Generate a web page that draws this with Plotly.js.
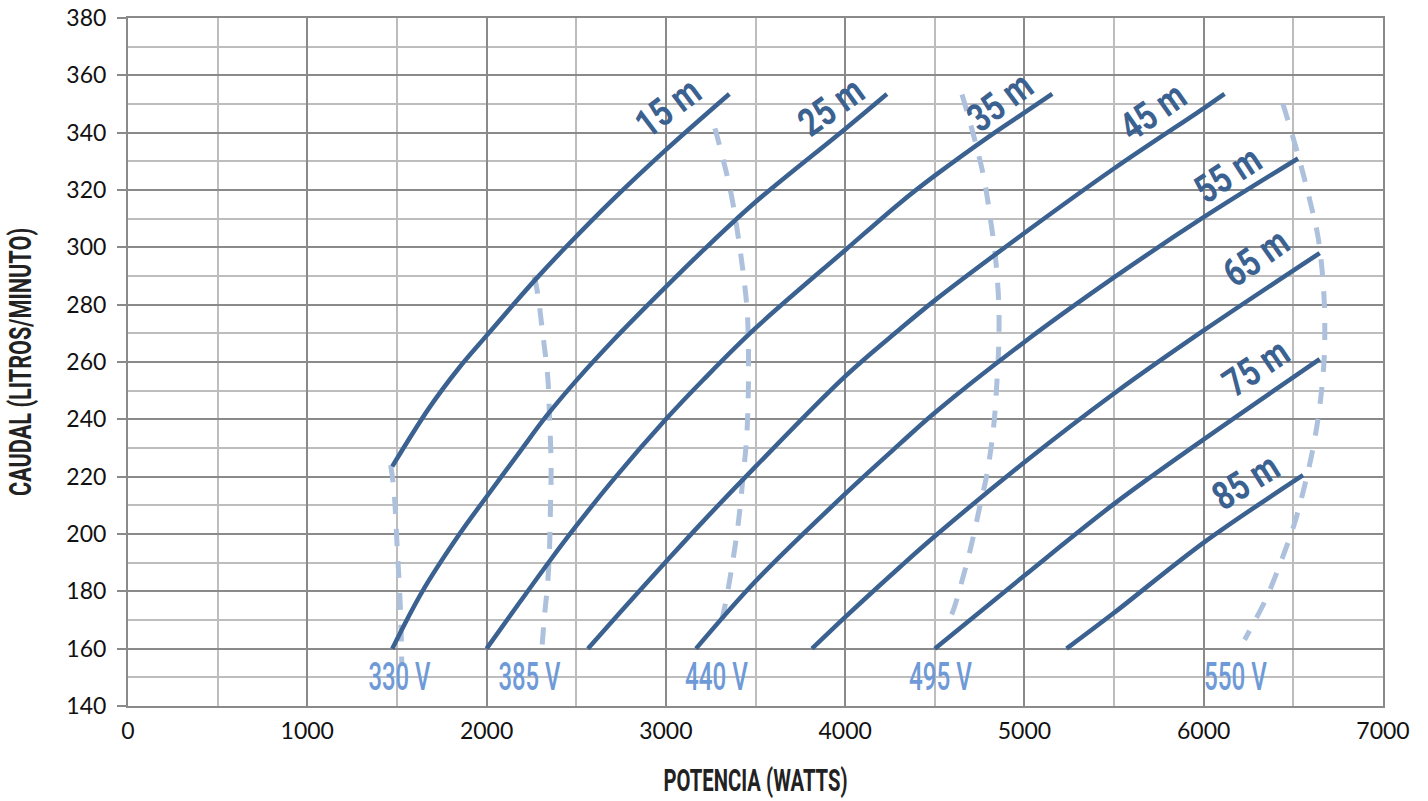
<!DOCTYPE html>
<html>
<head>
<meta charset="utf-8">
<script src="https://cdn.plot.ly/plotly-3.0.1.min.js"></script>
<style>html,body{margin:0;padding:0;background:#fff;}#chart{width:1428px;height:801px;}</style>
</head>
<body>
<div id="chart"></div>
<script>
// Head curves (potencia W vs caudal L/min)
const curveNames = ["15 m","25 m","35 m","45 m","55 m","65 m","75 m","85 m"];
const x15 = [1474,1680,1847,2000,2146,2276,2444,2700,3000,3354];
const y15 = [223.6,244,258,269.2,279.8,289,300.2,316.4,334,353.5];
const x25 = [1474,1642,1847,2000,2183,2332,2500,2705,3000,3209,3500,4000,4233];
const y25 = [160,180,199.8,213,228.5,241,253.5,267.5,286.2,299,315.8,341.3,353.5];
const x35 = [2000,2183,2351,2500,2705,3000,3209,3500,4000,4306,4500,4810,5000,5155];
const y35 = [160,176,190.5,202.8,218.8,240,253.8,271.8,299,315.5,325,339,347,353.5];
const x45 = [2565,2743,3000,3209,3500,4000,4306,4500,5000,5500,6000,6116];
const y45 = [160,172.5,190.3,204.5,223.5,255,271.5,281.5,305,327.5,348.5,353.5];
const x55 = [3168,3500,4000,4306,4500,5000,5500,6000,6526];
const y55 = [160,183.5,214,231.5,242.3,267,289.5,310.5,331];
const x65 = [3815,4000,4306,4500,5000,5500,6000,6647];
const y65 = [160,171,188.5,199.2,225,249,271,298];
const x75 = [4500,5000,5500,6000,6647];
const y75 = [160,185.5,210.5,233,261];
const x85 = [5235,5500,6000,6554];
const y85 = [160,172.5,197,220.5];

// Voltage lines
const voltNames = ["330 V","385 V","440 V","495 V","550 V"];
const x330 = [1465,1483,1502,1515,1521,1527];
const y330 = [224,215.5,194.6,180,171.4,155];
const x385 = [2267,2285,2313,2341,2351,2360,2356,2351,2341,2323,2304];
const y385 = [289.7,283.9,270,254.9,241,223.6,208.5,194.6,183,171.4,156.3];
const x440 = [3274,3358,3404,3451,3460,3460,3451,3432,3404,3367,3330,3293];
const y440 = [341.5,320.5,303.5,279.9,266.8,249.7,234,220.9,203.8,188.1,175,165.1];
const x495 = [4652,4717,4773,4810,4838,4857,4857,4847,4829,4791,4754,4698,4642,4596,4559];
const y495 = [353.3,338.9,324.5,310,296.9,279.9,266.8,253.6,237.9,220.9,210.4,194.6,181.5,172.3,168.4];
const x550 = [6442,6526,6591,6638,6666,6675,6671,6647,6610,6563,6507,6433,6349,6274,6228];
const y550 = [350,332.3,316.6,303.5,287.7,274.6,260.2,244.5,230,216.9,203.8,190.7,177.6,168.4,163.1];

// Label anchor values
const curveLabelX = [3011,3922,4866,5715,6134,6291,6291,6235];
const curveLabelY = [348.6,349,350.7,347.2,325.2,296.3,258,218];
const curveLabelAngle = [-37,-36,-37,-35,-33,-35,-34,-32];
const voltLabelX = [1514,2240,3285,4531,6179];
const voltLabelY = [150,150,150,150,150];

const solidColor = "#3a6190";
const dashColor = "#adc0dc";
const voltTextColor = "#6f9ad8";
const labelFont = "Roboto, 'Open Sans', sans-serif";

const curvesX = [x15,x25,x35,x45,x55,x65,x75,x85];
const curvesY = [y15,y25,y35,y45,y55,y65,y75,y85];
const voltsX = [x330,x385,x440,x495,x550];
const voltsY = [y330,y385,y440,y495,y550];

const traces = [];
voltsX.forEach((xs,i)=>{
  traces.push({x:xs,y:voltsY[i],type:"scatter",mode:"lines",name:voltNames[i],
    line:{color:dashColor,width:5,dash:"17px,15px",shape:"spline",smoothing:1},hoverinfo:"skip"});
});
curvesX.forEach((xs,i)=>{
  traces.push({x:xs,y:curvesY[i],type:"scatter",mode:"lines",name:curveNames[i],
    line:{color:solidColor,width:4.5,shape:"spline",smoothing:1},hoverinfo:"skip"});
});

const annotations = [];
curveNames.forEach((t,i)=>{
  annotations.push({x:curveLabelX[i],y:curveLabelY[i],xref:"x",yref:"y",text:t,showarrow:false,
    textangle:curveLabelAngle[i],font:{family:labelFont,size:39,color:solidColor,weight:"bold"}});
});
voltNames.forEach((t,i)=>{
  annotations.push({x:voltLabelX[i],y:voltLabelY[i],xref:"x",yref:"y",text:t,showarrow:false,
    font:{family:labelFont,size:38,color:voltTextColor,weight:500}});
});

const layout = {
  width:1428,height:801,
  margin:{l:128,r:45,t:18,b:95},
  paper_bgcolor:"#fff",plot_bgcolor:"#fff",
  showlegend:false,
  font:{family:"Lato, 'Open Sans', sans-serif",size:23,color:"#111"},
  xaxis:{range:[0,7000],dtick:1000,tick0:0,showgrid:true,gridcolor:"#8a8a8a",gridwidth:2,
    minor:{dtick:500,showgrid:true,gridcolor:"#bdbdbd",gridwidth:2,ticks:""},
    showline:true,linecolor:"#8a8a8a",linewidth:2,mirror:true,ticks:"",zeroline:false,
    ticklabelstandoff:3,tickfont:{size:23,color:"#111"},
    title:{text:"POTENCIA (WATTS)",font:{family:labelFont,size:31,color:"#222",weight:"bold"},standoff:27}},
  yaxis:{range:[140,380],dtick:20,tick0:140,showgrid:true,gridcolor:"#8a8a8a",gridwidth:2,
    minor:{dtick:10,showgrid:true,gridcolor:"#bdbdbd",gridwidth:2,ticks:""},
    showline:true,linecolor:"#8a8a8a",linewidth:2,mirror:true,ticks:"outside",ticklen:9,tickwidth:2,tickcolor:"#8a8a8a",
    zeroline:false,ticklabelstandoff:6,tickfont:{size:23,color:"#111"},
    title:{text:"CAUDAL (LITROS/MINUTO)",font:{family:labelFont,size:31,color:"#222",weight:"bold"},standoff:26}},
  annotations:annotations
};

// Target widths (px) to imitate the condensed typeface of the original
const condensedWidths = {"15 m":70,"25 m":70,"35 m":70,"45 m":70,"55 m":70,"65 m":70,"75 m":70,"85 m":70,
  "330 V":62,"385 V":62,"440 V":63,"495 V":63,"550 V":63,
  "POTENCIA (WATTS)":184,"CAUDAL (LITROS/MINUTO)":268};

function condense(){
  const nodes = document.querySelectorAll("#chart text.annotation-text, #chart text.xtitle, #chart text.ytitle");
  nodes.forEach(n=>{
    const w = condensedWidths[n.textContent.trim()];
    if(w){ n.setAttribute("textLength", w); n.setAttribute("lengthAdjust","spacingAndGlyphs"); }
  });
}
Plotly.newPlot("chart",traces,layout,{displayModeBar:false,staticPlot:true}).then(condense);
</script>
</body>
</html>
